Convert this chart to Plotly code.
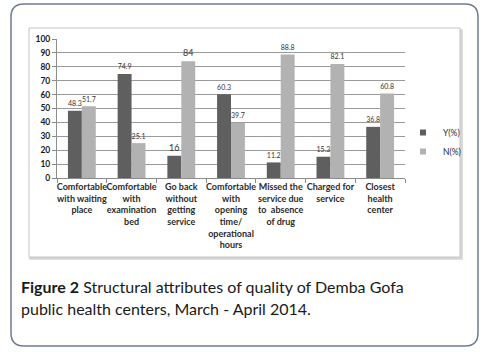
import plotly.graph_objects as go

categories = [
    "Comfortable<br>with waiting<br>place",
    "Comfortable<br>with<br>examination<br>bed",
    "Go back<br>without<br>getting<br>service",
    "Comfortable<br>with<br>opening<br>time/<br>operational<br>hours",
    "Missed the<br>service due<br>to  absence<br>of drug",
    "Charged for<br>service",
    "Closest<br>health<br>center",
]
yes_pct = [48.3, 74.9, 16, 60.3, 11.2, 15.3, 36.8]
no_pct = [51.7, 25.1, 84, 39.7, 88.8, 82.1, 60.8]
series_names = ["Y(%)", "N(%)"]
y_ticks = list(range(0, 101, 10))

W, H = 497, 352
L, R, T, B = 57, 405, 39, 178  # plot area in pixels

def px(x):
    return (x - L) / (R - L)

def py(y):
    return (B - y) / (B - T)

DARK = "#5f5f5f"
LIGHT = "#b2b2b2"
FONT = "Lato, Carlito, sans-serif"

fig = go.Figure()
for vals, color in [(yes_pct, DARK), (no_pct, LIGHT)]:
    fig.add_trace(go.Bar(
        x=categories, y=vals, marker=dict(color=color, line=dict(width=0)),
        text=[f"{v:g}" for v in vals], textposition="outside",
        textfont=dict(size=9, color="#333333", family=FONT),
        outsidetextfont=dict(size=9, color="#333333", family=FONT),
        cliponaxis=False, showlegend=False,
    ))
# legend entries with small square swatches
for name, color in zip(series_names, [DARK, LIGHT]):
    fig.add_trace(go.Scatter(
        x=[None], y=[None], mode="markers", name=name,
        marker=dict(symbol="square", size=6, color=color),
    ))

def rounded(x0, y0, x1, y1, r):
    rx = r / (R - L)
    ry = r / (B - T)
    X0, X1 = px(x0), px(x1)
    Y0, Y1 = py(y0), py(y1)  # Y0 top, Y1 bottom
    return (f"M{X0+rx},{Y0} L{X1-rx},{Y0} Q{X1},{Y0} {X1},{Y0-ry} "
            f"L{X1},{Y1+ry} Q{X1},{Y1} {X1-rx},{Y1} "
            f"L{X0+rx},{Y1} Q{X0},{Y1} {X0},{Y1+ry} "
            f"L{X0},{Y0-ry} Q{X0},{Y0} {X0+rx},{Y0} Z")

shapes = [
    dict(type="path", xref="paper", yref="paper", layer="below",
         path=rounded(11, 4, 478, 346, 13),
         line=dict(color="#6d7b8f", width=1.5), fillcolor="rgba(0,0,0,0)"),
    # inner chart frame shadow
    dict(type="rect", xref="paper", yref="paper", layer="below",
         x0=px(30), x1=px(462), y0=py(30), y1=py(259),
         line=dict(color="#d4d4d4", width=1.5), fillcolor="#d8d8d8"),
    dict(type="rect", xref="paper", yref="paper", layer="below",
         x0=px(29), x1=px(460), y0=py(28), y1=py(257),
         line=dict(color="#c4c4c4", width=1), fillcolor="white"),
]

annotations = [
    dict(xref="paper", yref="paper", x=px(19), y=py(286), xanchor="left", yanchor="middle",
         text="<b>Figure 2</b> Structural attributes of quality of Demba Gofa",
         showarrow=False, font=dict(size=16, color="#1a1a1a", family=FONT)),
    dict(xref="paper", yref="paper", x=px(19), y=py(308), xanchor="left", yanchor="middle",
         text="public health centers, March - April 2014.",
         showarrow=False, font=dict(size=16, color="#1a1a1a", family=FONT)),
]

fig.update_layout(
    width=W, height=H,
    margin=dict(l=L, r=W - R, t=T, b=H - B),
    paper_bgcolor="white", plot_bgcolor="rgba(0,0,0,0)",
    barmode="group", bargap=0.44, bargroupgap=0.0,
    shapes=shapes, annotations=annotations,
    showlegend=True,
    legend=dict(x=px(403), y=py(118), xanchor="left", yanchor="top",
                font=dict(size=8.5, color="#1f2a44", family=FONT),
                tracegroupgap=0, itemwidth=30, bgcolor="rgba(0,0,0,0)"),
    font=dict(family=FONT),
)
fig.update_xaxes(
    tickson="boundaries", ticks="outside", ticklen=4, tickcolor="#8c8c8c",
    showline=True, linecolor="#8c8c8c", linewidth=1, showgrid=False,
    tickfont=dict(size=9, color="#2b2b2b", family=FONT), tickangle=0,
    fixedrange=True,
)
fig.update_xaxes(ticktext=[f"<b>{c}</b>" for c in categories], tickvals=categories)
fig.update_yaxes(
    range=[0, 100], tickvals=y_ticks, ticktext=[f"<b>{v}</b>" for v in y_ticks],
    ticks="outside", ticklen=4, tickcolor="#8c8c8c",
    showline=True, linecolor="#8c8c8c", linewidth=1,
    showgrid=True, gridcolor="#9a9a9a", gridwidth=1, zeroline=False,
    tickfont=dict(size=8.5, color="#1a1a1a", family=FONT),
)

fig.write_html("out.html")
